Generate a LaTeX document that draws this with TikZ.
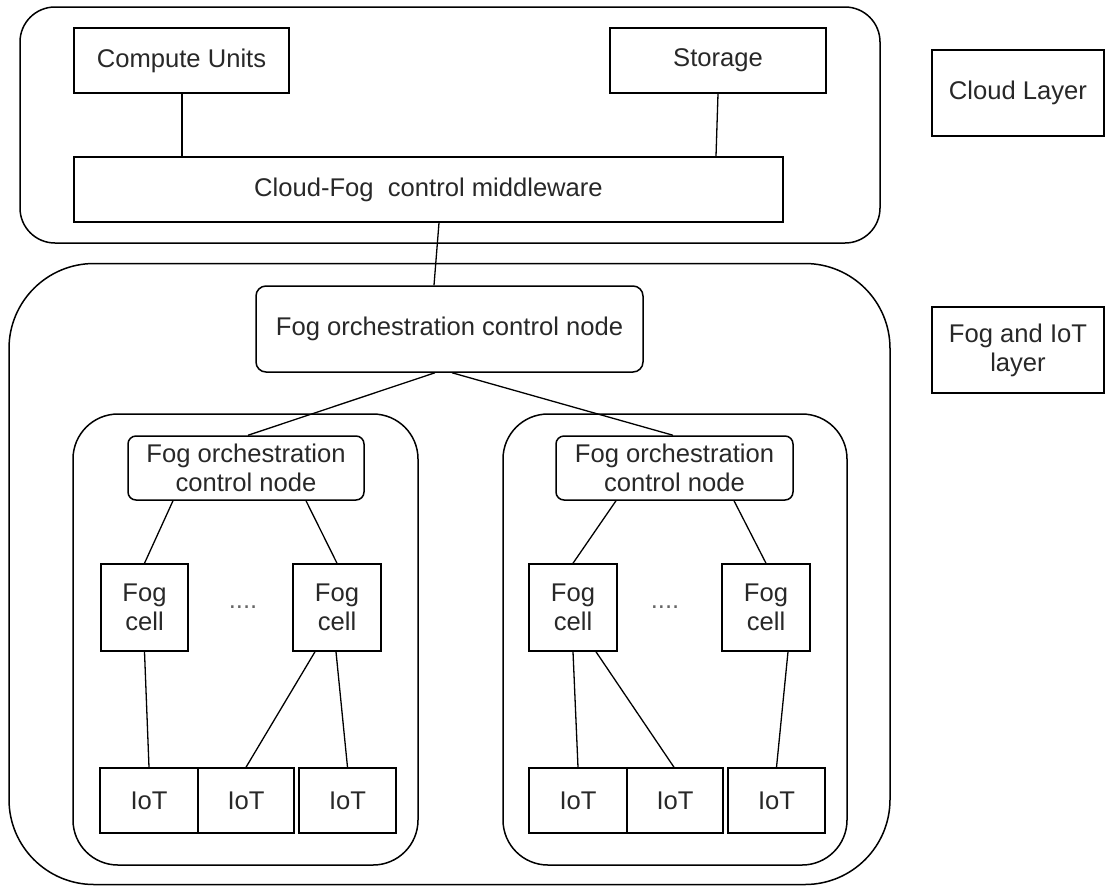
\documentclass[tikz,border=0pt]{standalone}
\usepackage{fontspec}
\setmainfont{Liberation Sans}
\usetikzlibrary{calc}
\definecolor{txt}{RGB}{40,40,40}
\begin{document}
\begin{tikzpicture}[x=1pt,y=-1pt,
  font=\fontsize{25.6}{29}\selectfont,
  box/.style={draw=black, line width=1.5pt, inner sep=0pt, text=txt, align=center},
  rbox/.style={box, rounded corners=10pt},
  layerbox/.style={draw=black, line width=1.5pt, inner sep=0pt},
  link/.style={draw=black, line width=1.3pt}
]
\useasboundingbox (0,0) rectangle (1105,887);

% layer containers
\node[layerbox, rounded corners=35pt, minimum width=860pt, minimum height=236pt] (cloud) at (450,125) {};
\node[layerbox, rounded corners=85pt, minimum width=881pt, minimum height=621pt] (fog) at (449.5,574) {};
\node[layerbox, rounded corners=45pt, minimum width=345pt, minimum height=451pt] (inL) at (245.5,639.5) {};
\node[layerbox, rounded corners=45pt, minimum width=344pt, minimum height=451pt] (inR) at (675,639.5) {};

% cloud layer
\node[box, minimum width=215pt, minimum height=65pt] (cu) at (181.5,60.5) {Compute Units};
\node[box, minimum width=216pt, minimum height=65pt] (st) at (718,60.5) {Storage};
\node[box, minimum width=709pt, minimum height=65pt] (mw) at (428.5,189.5) {Cloud-Fog\ \ control middleware};

% legend
\node[box, minimum width=172pt, minimum height=86pt] (cl) at (1018,93) {Cloud Layer};
\node[box, minimum width=172pt, minimum height=86pt] (fl) at (1018,350) {Fog and IoT\\layer};

% fog layer
\node[rbox, minimum width=387pt, minimum height=86pt] (orch) at (449.5,329) {Fog orchestration control node};
\node[rbox, rounded corners=8pt, minimum width=236pt, minimum height=64pt] (oL) at (246,468) {Fog orchestration\\control node};
\node[rbox, rounded corners=8pt, minimum width=237pt, minimum height=64pt] (oR) at (674.5,468) {Fog orchestration\\control node};

\node[box, minimum width=87pt, minimum height=87pt] (c1) at (144.5,607.5) {Fog\\cell};
\node[box, minimum width=88pt, minimum height=87pt] (c2) at (337,607.5) {Fog\\cell};
\node[box, minimum width=88pt, minimum height=87pt] (c3) at (573,607.5) {Fog\\cell};
\node[box, minimum width=88pt, minimum height=87pt] (c4) at (766,607.5) {Fog\\cell};
\node[inner sep=0pt, text=black!60] (dL) at (243,607.5) {....};
\node[inner sep=0pt, text=black!60] (dR) at (665,607.5) {....};

\node[box, minimum width=98pt, minimum height=65pt] (i1) at (149,800.5) {IoT};
\node[box, minimum width=96pt, minimum height=65pt] (i2) at (246,800.5) {IoT};
\node[box, minimum width=97pt, minimum height=65pt] (i3) at (347.5,800.5) {IoT};
\node[box, minimum width=98pt, minimum height=65pt] (i4) at (578,800.5) {IoT};
\node[box, minimum width=96pt, minimum height=65pt] (i5) at (675,800.5) {IoT};
\node[box, minimum width=97pt, minimum height=65pt] (i6) at (776.5,800.5) {IoT};

% connectors
\draw[link] ($(cu.south)+(0.5,0)$) -- ($(cu.south |- mw.north)+(0.5,0)$);
\draw[link] (st.south) -- ($(st.south |- mw.north)+(-2,0)$);
\draw[link] ($(mw.south)+(10.5,0)$) -- ($(orch.north)+(-15.5,0)$);
\draw[link] ($(orch.south)+(-14.5,0)$) -- ($(oL.north)+(2,0)$);
\draw[link] ($(orch.south)+(2.5,0)$) -- ($(oR.north)+(-1.5,0)$);
\draw[link] ($(oL.south)+(-73,0)$) -- (c1.north);
\draw[link] ($(oL.south)+(60,0)$) -- (c2.north);
\draw[link] ($(oR.south)+(-58.5,0)$) -- (c3.north);
\draw[link] ($(oR.south)+(59.5,0)$) -- (c4.north);
\draw[link] (c1.south) -- (i1.north);
\draw[link] ($(c2.south)+(-22,0)$) -- (i2.north);
\draw[link] ($(c2.south)+(-1,0)$) -- (i3.north);
\draw[link] (c3.south) -- (i4.north);
\draw[link] ($(c3.south)+(23,0)$) -- ($(i5.north)+(-1,0)$);
\draw[link] ($(c4.south)+(22,0)$) -- (i6.north);
\end{tikzpicture}
\end{document}
